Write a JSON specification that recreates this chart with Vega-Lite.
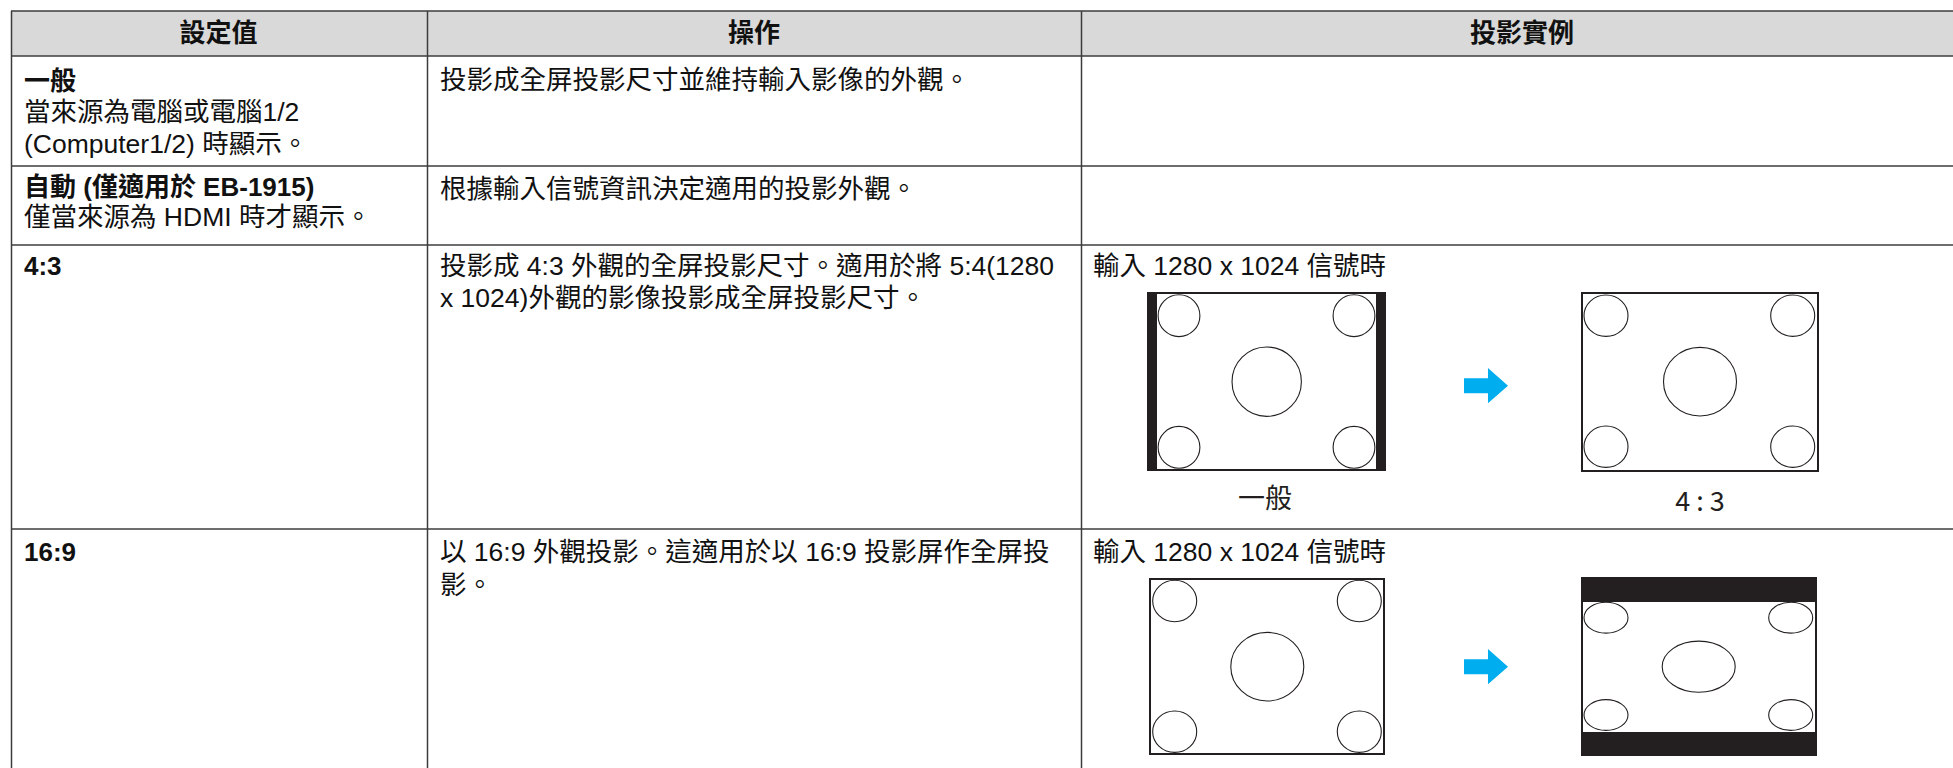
{
  "$schema": "https://vega.github.io/schema/vega-lite/v6.json",
  "width": 1953,
  "height": 768,
  "autosize": "none",
  "padding": 0,
  "background": "#ffffff",
  "config": {"view": {"stroke": null}},
  "datasets": {
    "bands": [
      {"x": 11, "x2": 1953, "y": 11, "y2": 56}
    ],
    "grid": [
      {"x": 11, "x2": 1953, "y": 11, "y2": 11},
      {"x": 11, "x2": 1953, "y": 56, "y2": 56},
      {"x": 11, "x2": 1953, "y": 166, "y2": 166},
      {"x": 11, "x2": 1953, "y": 245, "y2": 245},
      {"x": 11, "x2": 1953, "y": 529, "y2": 529},
      {"x": 11.5, "x2": 11.5, "y": 11, "y2": 768},
      {"x": 427.5, "x2": 427.5, "y": 11, "y2": 768},
      {"x": 1081.5, "x2": 1081.5, "y": 11, "y2": 768}
    ],
    "frames": [
      {"x": 1148, "x2": 1385, "y": 293, "y2": 470},
      {"x": 1582, "x2": 1818, "y": 293, "y2": 471},
      {"x": 1150, "x2": 1384, "y": 579, "y2": 754},
      {"x": 1582, "x2": 1816, "y": 578, "y2": 755}
    ],
    "bars": [
      {"x": 1148, "x2": 1157, "y": 293, "y2": 470},
      {"x": 1376, "x2": 1385, "y": 293, "y2": 470},
      {"x": 1582, "x2": 1816, "y": 578, "y2": 602},
      {"x": 1582, "x2": 1816, "y": 732, "y2": 755}
    ],
    "rings": [
      {"x": 1179, "y": 315.7, "ring": "corner", "form": "round"},
      {"x": 1354, "y": 315.7, "ring": "corner", "form": "round"},
      {"x": 1179, "y": 447.3, "ring": "corner", "form": "round"},
      {"x": 1354, "y": 447.3, "ring": "corner", "form": "round"},
      {"x": 1266.7, "y": 381.7, "ring": "centre", "form": "round"},
      {"x": 1606, "y": 315.7, "ring": "corner", "form": "wide"},
      {"x": 1792.7, "y": 315.7, "ring": "corner", "form": "wide"},
      {"x": 1606, "y": 446.7, "ring": "corner", "form": "wide"},
      {"x": 1792.7, "y": 446.7, "ring": "corner", "form": "wide"},
      {"x": 1700, "y": 381.7, "ring": "centre", "form": "wide"},
      {"x": 1174.7, "y": 601, "ring": "corner", "form": "wide"},
      {"x": 1359.3, "y": 601, "ring": "corner", "form": "wide"},
      {"x": 1174.7, "y": 731.7, "ring": "corner", "form": "wide"},
      {"x": 1359.3, "y": 731.7, "ring": "corner", "form": "wide"},
      {"x": 1267.3, "y": 666.7, "ring": "centre", "form": "wide"},
      {"x": 1606, "y": 617.7, "ring": "corner", "form": "flat"},
      {"x": 1790.7, "y": 617.7, "ring": "corner", "form": "flat"},
      {"x": 1606, "y": 715, "ring": "corner", "form": "flat"},
      {"x": 1790.7, "y": 715, "ring": "corner", "form": "flat"},
      {"x": 1698.7, "y": 666.7, "ring": "centre", "form": "flat"}
    ],
    "arrows": [
      {"x": 1486, "y": 385.7},
      {"x": 1486, "y": 666.7}
    ],
    "heads": [
      {"x": 218.5, "y": 33.5, "text": "設定值"},
      {"x": 754, "y": 33.5, "text": "操作"},
      {"x": 1522, "y": 33.5, "text": "投影實例"}
    ],
    "titles": [
      {"x": 24, "y": 82, "text": "一般"},
      {"x": 24, "y": 188, "text": "自動 (僅適用於 EB-1915)"},
      {"x": 24, "y": 267, "text": "4:3"},
      {"x": 24, "y": 553, "text": "16:9"}
    ],
    "body": [
      {"x": 24, "y": 113, "text": "當來源為電腦或電腦1/2"},
      {"x": 24, "y": 145, "text": "(Computer1/2) 時顯示。"},
      {"x": 24, "y": 218, "text": "僅當來源為 HDMI 時才顯示。"},
      {"x": 440, "y": 81, "text": "投影成全屏投影尺寸並維持輸入影像的外觀。"},
      {"x": 440, "y": 190, "text": "根據輸入信號資訊決定適用的投影外觀。"},
      {"x": 440, "y": 267, "text": "投影成 4:3 外觀的全屏投影尺寸。適用於將 5:4(1280"},
      {"x": 440, "y": 299, "text": "x 1024)外觀的影像投影成全屏投影尺寸。"},
      {"x": 440, "y": 553, "text": "以 16:9 外觀投影。這適用於以 16:9 投影屏作全屏投"},
      {"x": 440, "y": 586, "text": "影。"},
      {"x": 1093, "y": 267, "text": "輸入 1280 x 1024 信號時"},
      {"x": 1093, "y": 553, "text": "輸入 1280 x 1024 信號時"}
    ],
    "captions": [
      {"x": 1265, "y": 500, "text": "一般"},
      {"x": 1700, "y": 503, "text": "4 : 3"}
    ]
  },
  "layer": [
    {
      "data": {"name": "bands"},
      "mark": {"type": "rect", "fill": "#d9d9d9"},
      "encoding": {
        "x": {"field": "x", "type": "quantitative", "scale": {"domain": [0, 1953], "nice": false, "zero": false}, "axis": null},
        "x2": {"field": "x2"},
        "y": {"field": "y", "type": "quantitative", "scale": {"domain": [0, 768], "reverse": true, "nice": false, "zero": false}, "axis": null},
        "y2": {"field": "y2"}
      }
    },
    {
      "data": {"name": "grid"},
      "mark": {"type": "rule", "color": "#3c3c3c", "strokeWidth": 1.5},
      "encoding": {
        "x": {"field": "x", "type": "quantitative"},
        "x2": {"field": "x2"},
        "y": {"field": "y", "type": "quantitative"},
        "y2": {"field": "y2"}
      }
    },
    {
      "data": {"name": "frames"},
      "mark": {"type": "rect", "fill": "#ffffff", "stroke": "#231f20", "strokeWidth": 2},
      "encoding": {
        "x": {"field": "x", "type": "quantitative"},
        "x2": {"field": "x2"},
        "y": {"field": "y", "type": "quantitative"},
        "y2": {"field": "y2"}
      }
    },
    {
      "data": {"name": "bars"},
      "mark": {"type": "rect", "fill": "#231f20"},
      "encoding": {
        "x": {"field": "x", "type": "quantitative"},
        "x2": {"field": "x2"},
        "y": {"field": "y", "type": "quantitative"},
        "y2": {"field": "y2"}
      }
    },
    {
      "data": {"name": "rings"},
      "mark": {"type": "point", "filled": false, "color": "#231f20", "strokeWidth": 1.1, "opacity": 1},
      "encoding": {
        "x": {"field": "x", "type": "quantitative"},
        "y": {"field": "y", "type": "quantitative"},
        "shape": {"field": "form", "type": "nominal", "legend": null, "scale": {"domain": ["round", "wide", "flat"], "range": [
          "M0.95,0C0.95,0.5247 0.5247,0.95 0,0.95C-0.5247,0.95 -0.95,0.5247 -0.95,0C-0.95,-0.5247 -0.5247,-0.95 0,-0.95C0.5247,-0.95 0.95,-0.5247 0.95,0Z",
          "M1,0C1,0.5192 0.5523,0.94 0,0.94C-0.5523,0.94 -1,0.5192 -1,0C-1,-0.5192 -0.5523,-0.94 0,-0.94C0.5523,-0.94 1,-0.5192 1,0Z",
          "M1,0C1,0.3866 0.5523,0.7 0,0.7C-0.5523,0.7 -1,0.3866 -1,0C-1,-0.3866 -0.5523,-0.7 0,-0.7C0.5523,-0.7 1,-0.3866 1,0Z"
        ]}},
        "size": {"field": "ring", "type": "nominal", "legend": null, "scale": {"domain": ["corner", "centre"], "range": [1936, 5329]}}
      }
    },
    {
      "data": {"name": "arrows"},
      "mark": {"type": "point", "filled": true, "color": "#00aeef", "opacity": 1, "size": 1936, "strokeWidth": 0,
        "shape": "M-1,-0.34L0.09,-0.34L0.09,-0.8L1,0L0.09,0.8L0.09,0.34L-1,0.34Z"},
      "encoding": {
        "x": {"field": "x", "type": "quantitative"},
        "y": {"field": "y", "type": "quantitative"}
      }
    },
    {
      "data": {"name": "heads"},
      "mark": {"type": "text", "align": "center", "baseline": "middle", "font": "Liberation Sans, Noto Sans CJK TC", "fontSize": 26, "fontWeight": "bold", "color": "#111111"},
      "encoding": {
        "x": {"field": "x", "type": "quantitative"},
        "y": {"field": "y", "type": "quantitative"},
        "text": {"field": "text"}
      }
    },
    {
      "data": {"name": "titles"},
      "mark": {"type": "text", "align": "left", "baseline": "middle", "font": "Liberation Sans, Noto Sans CJK TC", "fontSize": 26, "fontWeight": "bold", "color": "#111111"},
      "encoding": {
        "x": {"field": "x", "type": "quantitative"},
        "y": {"field": "y", "type": "quantitative"},
        "text": {"field": "text"}
      }
    },
    {
      "data": {"name": "body"},
      "mark": {"type": "text", "align": "left", "baseline": "middle", "font": "Liberation Sans, Noto Sans CJK TC", "fontSize": 26.5, "color": "#111111"},
      "encoding": {
        "x": {"field": "x", "type": "quantitative"},
        "y": {"field": "y", "type": "quantitative"},
        "text": {"field": "text"}
      }
    },
    {
      "data": {"name": "captions"},
      "mark": {"type": "text", "align": "center", "baseline": "middle", "font": "Liberation Sans Narrow, Noto Sans CJK TC", "fontSize": 27, "color": "#231f20"},
      "encoding": {
        "x": {"field": "x", "type": "quantitative"},
        "y": {"field": "y", "type": "quantitative"},
        "text": {"field": "text"}
      }
    }
  ]
}
